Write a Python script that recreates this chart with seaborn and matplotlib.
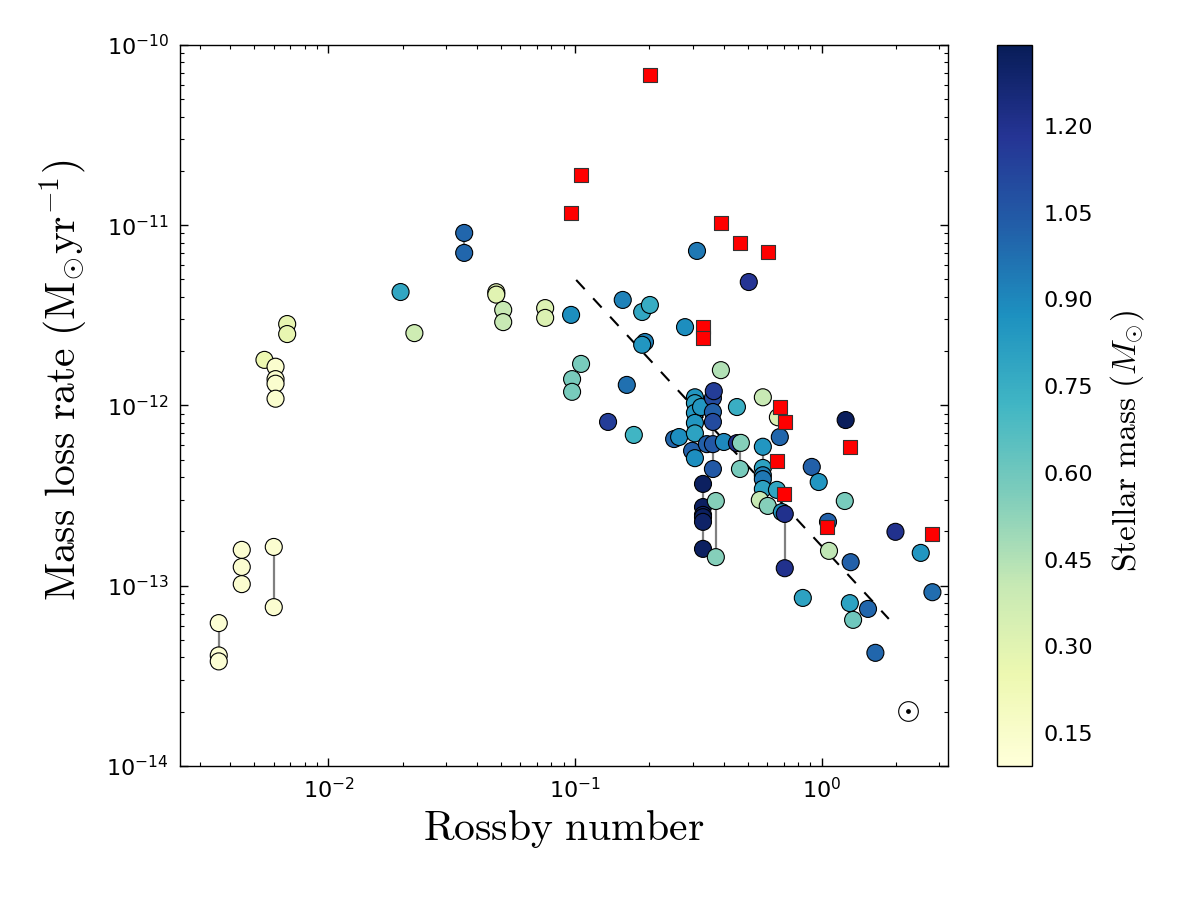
import numpy as np
import pandas as pd
import seaborn as sns
import matplotlib.pyplot as plt
from matplotlib.colors import Normalize
from matplotlib.cm import ScalarMappable

# stars coloured by stellar mass
rossby = [0.00359, 0.00359, 0.00359, 0.00445, 0.00445, 0.00445, 0.0060, 0.0060,
          0.0055, 0.0061, 0.0061, 0.0061, 0.0061, 0.0068, 0.0068,
          0.0196, 0.0223, 0.0355, 0.0355, 0.0479, 0.0479, 0.0511, 0.0511, 0.0756, 0.0756,
          0.0963, 0.1057, 0.0972, 0.0972, 0.136, 0.156, 0.162, 0.173, 0.187, 0.201,
          0.192, 0.187, 0.252, 0.264, 0.279, 0.298, 0.306, 0.306, 0.306, 0.306, 0.306,
          0.306, 0.324, 0.312, 0.330, 0.330, 0.330, 0.330, 0.330, 0.330,
          0.342, 0.362, 0.362, 0.362, 0.362, 0.362, 0.365, 0.372, 0.372, 0.390,
          0.401, 0.453, 0.470, 0.466, 0.453, 0.506, 0.577, 0.577, 0.577, 0.577, 0.577,
          0.577, 0.658, 0.561, 0.604, 0.689, 0.708, 0.708, 0.664, 0.676,
          0.911, 0.972, 1.25, 1.24, 1.06, 1.07, 1.31, 1.99, 2.52, 2.81,
          0.838, 1.30, 1.34, 1.54, 1.65]
mdot = [6.2e-14, 4.1e-14, 3.8e-14, 1.58e-13, 1.27e-13, 1.02e-13, 1.64e-13, 7.6e-14,
        1.79e-12, 1.64e-12, 1.40e-12, 1.32e-12, 1.09e-12, 2.83e-12, 2.49e-12,
        4.26e-12, 2.52e-12, 9.06e-12, 7.02e-12, 4.25e-12, 4.12e-12, 3.39e-12, 2.90e-12, 3.47e-12, 3.06e-12,
        3.18e-12, 1.70e-12, 1.40e-12, 1.19e-12, 8.1e-13, 3.85e-12, 1.30e-12, 6.86e-13, 3.30e-12, 3.61e-12,
        2.25e-12, 2.17e-12, 6.51e-13, 6.68e-13, 2.72e-12, 5.6e-13, 5.1e-13, 1.11e-12, 1.03e-12, 9.1e-13, 8.0e-13,
        7.0e-13, 9.8e-13, 7.2e-12, 3.67e-13, 2.73e-13, 2.47e-13, 2.40e-13, 2.26e-13, 1.60e-13,
        6.1e-13, 6.1e-13, 1.10e-12, 9.2e-13, 8.1e-13, 4.44e-13, 1.20e-12, 2.95e-13, 1.44e-13, 1.57e-12,
        6.27e-13, 6.18e-13, 6.2e-13, 4.44e-13, 9.8e-13, 4.84e-12, 1.11e-12, 5.9e-13, 4.5e-13, 4.1e-13, 3.9e-13,
        3.44e-13, 3.4e-13, 2.99e-13, 2.77e-13, 2.56e-13, 2.5e-13, 1.25e-13, 8.6e-13, 6.68e-13,
        4.56e-13, 3.76e-13, 8.3e-13, 2.95e-13, 2.26e-13, 1.56e-13, 1.35e-13, 1.99e-13, 1.52e-13, 9.2e-14,
        8.55e-14, 8.0e-14, 6.46e-14, 7.43e-14, 4.24e-14]
mass = [0.12, 0.12, 0.12, 0.13, 0.13, 0.13, 0.13, 0.13,
        0.25, 0.14, 0.14, 0.14, 0.14, 0.27, 0.27,
        0.78, 0.38, 1.00, 1.00, 0.30, 0.30, 0.40, 0.40, 0.32, 0.32,
        0.88, 0.58, 0.58, 0.58, 1.15, 0.92, 0.97, 0.72, 0.78, 0.76,
        0.92, 0.85, 1.00, 0.88, 0.88, 1.02, 0.88, 0.85, 0.82, 0.85, 0.85,
        0.80, 0.85, 0.95, 1.32, 1.32, 1.30, 1.32, 1.30, 1.32,
        1.02, 1.05, 1.10, 1.02, 1.10, 1.05, 1.15, 0.55, 0.55, 0.45,
        0.90, 1.20, 0.55, 0.58, 0.75, 1.18, 0.40, 0.85, 0.80, 0.92, 0.95,
        0.80, 0.78, 0.40, 0.55, 0.85, 1.20, 1.20, 0.33, 1.00,
        1.02, 0.85, 1.33, 0.58, 1.02, 0.42, 1.02, 1.20, 0.85, 0.98,
        0.80, 0.80, 0.60, 1.00, 1.00]

# red squares
sq_rossby = [0.201, 0.1057, 0.0963, 0.390, 0.466, 0.604, 0.330, 0.330,
             0.676, 0.708, 1.30, 0.658, 0.702, 1.047, 2.79]
sq_mdot = [6.82e-11, 1.9e-11, 1.17e-11, 1.03e-11, 7.97e-12, 7.11e-12, 2.72e-12, 2.37e-12,
           9.8e-13, 8.1e-13, 5.89e-13, 4.92e-13, 3.23e-13, 2.12e-13, 1.94e-13]

# grey connectors: x, y_top, y_bottom
link_x = [0.00359, 0.0060, 0.0061, 0.0355, 0.306, 0.330, 0.362, 0.372, 0.466, 0.577, 0.708]
link_top = [6.2e-14, 1.64e-13, 1.64e-12, 9.06e-12, 1.11e-12, 3.67e-13, 1.20e-12, 2.95e-13, 6.18e-13, 5.9e-13, 2.5e-13]
link_bot = [3.8e-14, 7.6e-14, 1.09e-12, 7.02e-12, 5.1e-13, 1.60e-13, 4.44e-13, 1.44e-13, 4.44e-13, 4.5e-13, 1.25e-13]

# dashed fit
fit_x = [0.101, 1.87]
fit_y = [4.97e-12, 6.54e-14]

# the Sun
sun_x, sun_y = 2.23, 2.02e-14

cbar_ticks = [0.15, 0.30, 0.45, 0.60, 0.75, 0.90, 1.05, 1.20]
mass_min, mass_max = 0.093, 1.34

sns.set_style('ticks')
plt.rcParams['font.family'] = ['DejaVu Sans']
plt.rcParams['axes.unicode_minus'] = False
plt.rcParams['text.color'] = 'black'
plt.rcParams['xtick.color'] = 'black'
plt.rcParams['ytick.color'] = 'black'
plt.rcParams['axes.labelcolor'] = 'black'

df = pd.DataFrame({'rossby': rossby, 'mdot': mdot, 'mass': mass})
sq = pd.DataFrame({'rossby': sq_rossby, 'mdot': sq_mdot})

fig = plt.figure(figsize=(12, 9), dpi=100)
ax = fig.add_axes([0.15, 0.149, 0.64, 0.801])
cax = fig.add_axes([0.831, 0.149, 0.029, 0.801])

norm = Normalize(vmin=mass_min, vmax=mass_max)

ax.vlines(link_x, link_bot, link_top, colors='grey', linewidth=1.6, zorder=1)
ax.plot(fit_x, fit_y, color='black', linestyle=(0, (6, 6)), linewidth=1.5, zorder=1)

sns.scatterplot(data=df, x='rossby', y='mdot', hue='mass', palette='YlGnBu',
                hue_norm=norm, s=150, edgecolor='black', linewidth=0.8,
                legend=False, ax=ax, zorder=2)
sns.scatterplot(data=sq, x='rossby', y='mdot', marker='s', color='red', s=115,
                edgecolor='#333333', linewidth=0.8, legend=False, ax=ax, zorder=3)

ax.scatter([sun_x], [sun_y], s=200, facecolor='white', edgecolor='black', linewidth=0.8, zorder=2)
ax.scatter([sun_x], [sun_y], s=6, color='black', zorder=3)

ax.set_xscale('log')
ax.set_yscale('log')
ax.set_xlim(0.0025, 3.25)
ax.set_ylim(1e-14, 1e-10)

for s in ax.spines.values():
    s.set_linewidth(1.0)
    s.set_color('black')
ax.tick_params(which='both', direction='in', top=True, right=True, labelsize=16, pad=8)
ax.tick_params(which='major', length=6, width=1)
ax.tick_params(which='minor', length=3, width=0.8)

xl = ax.set_xlabel(r'$\mathrm{Rossby\ number}$', fontsize=30, labelpad=4)
xl.set_math_fontfamily('cm')
yl = ax.set_ylabel(r'$\mathrm{Mass\ loss\ rate\ (M_{\odot}yr^{-1})}$', fontsize=30)
yl.set_math_fontfamily('cm')
ax.yaxis.set_label_coords(-0.118, 0.535)

sm = ScalarMappable(norm=norm, cmap='YlGnBu')
cb = fig.colorbar(sm, cax=cax, ticks=cbar_ticks)
cb.ax.set_yticklabels(['%.2f' % t for t in cbar_ticks])
cb.ax.tick_params(direction='in', labelsize=16, length=6, pad=8, color='black')
cb.outline.set_linewidth(1.0)
cb.outline.set_edgecolor('black')
cb.set_label(r'$\mathrm{Stellar\ mass\ }(M_{\odot})$', fontsize=24)
cb.ax.yaxis.label.set_math_fontfamily('cm')
cb.ax.yaxis.set_label_coords(3.2, 0.45)

plt.savefig('out.png', dpi=100)
